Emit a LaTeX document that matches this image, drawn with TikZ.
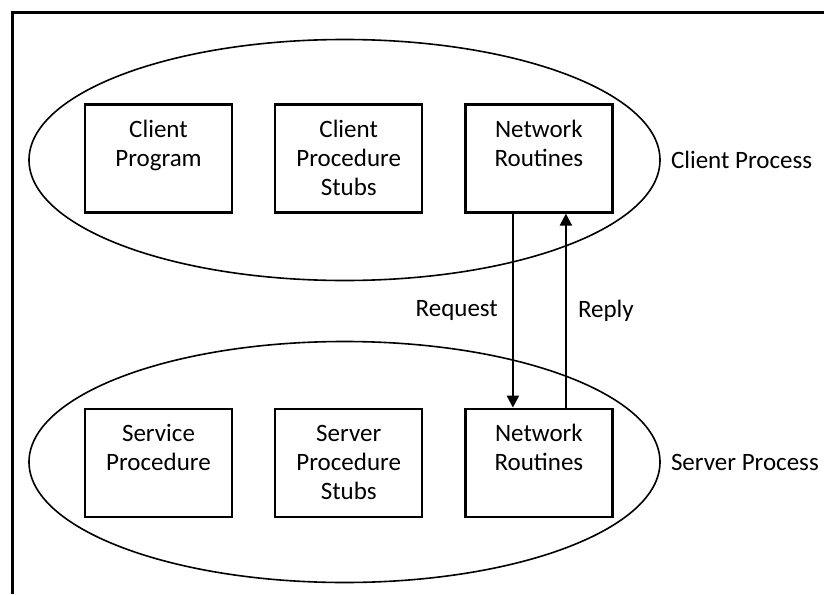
\documentclass[tikz,border=0pt]{standalone}
\usepackage{fontspec}
\setmainfont{Carlito}
\usetikzlibrary{positioning, arrows.meta, shapes.geometric}
\tikzstyle{proc} = [rectangle, draw, line width=2.2pt, minimum width=147pt, minimum height=108pt, inner sep=6pt, font=\fontsize{25}{29}\selectfont]
\tikzstyle{space} = [ellipse, draw, line width=1.6pt, minimum width=631pt, minimum height=241pt, inner sep=0pt]
\tikzstyle{arrow} = [line width=2.2pt, -{Triangle[length=12pt, width=12pt]}]
\tikzstyle{tag} = [inner sep=0pt, font=\fontsize{25}{29}\selectfont]
\newcommand{\proctext}[1]{\parbox[t][96pt][t]{135pt}{\centering\rule{0pt}{27pt}#1}}

\begin{document}
\begin{tikzpicture}[x=1pt, y=-1pt, node distance=41pt]
  \useasboundingbox (0,0) rectangle (824,594);

  % outer frame (only top and left edges show)
  \draw[line width=3pt] (12,594) -- (12,13) -- (824,13);

  % Process outlines
  \node (client) [space] at (344.5,160) {};
  \node (server) [space] at (344.5,462) {};
  \node (clientlbl) [tag, right=10pt of client.east] {Client Process};
  \node (serverlbl) [tag, right=10pt of server.east] {Server Process};

  % Client side
  \node (cprog) [proc] at (158.5,158.5) {\proctext{Client\\Program}};
  \node (cstub) [proc, right=of cprog] {\proctext{Client\\Procedure\\Stubs}};
  \node (cnet) [proc, right=of cstub] {\proctext{Network\\Routines}};

  % Server side
  \node (sproc) [proc, below=194pt of cprog] {\proctext{Service\\Procedure}};
  \node (sstub) [proc, right=of sproc] {\proctext{Server\\Procedure\\Stubs}};
  \node (snet) [proc, right=of sstub] {\proctext{Network\\Routines}};

  % Messages
  \draw[arrow] ([xshift=-26pt]cnet.south) -- ([xshift=-26pt]cnet.south |- snet.north)
    node (request) [tag, midway, left=14pt] {Request};
  \draw[arrow] ([xshift=27pt]cnet.south |- snet.north) -- ([xshift=27pt]cnet.south)
    node (reply) [tag, midway, right=11pt] {Reply};

\end{tikzpicture}
\end{document}
